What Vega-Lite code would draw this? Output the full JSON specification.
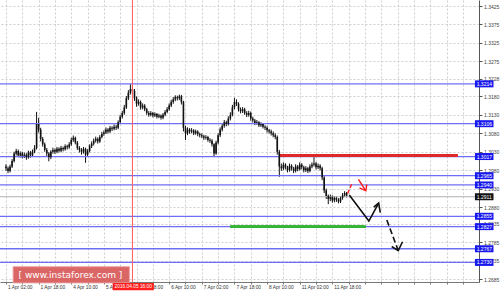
{
"$schema": "https://vega.github.io/schema/vega-lite/v6.json",
"width": 479, "height": 282,
"autosize": "none",
"padding": {"left": 0, "top": 0, "right": 21, "bottom": 11},
"background": "white",
"config": {"view": {"stroke": null}, "font": "Liberation Sans"},
"resolve": {"axis": {"x": "independent", "y": "independent"}},
"datasets": {
"candles": [
{"i":0,"o":1.2990,"h":1.2996,"l":1.2978,"c":1.2985},
{"i":1,"o":1.2985,"h":1.2990,"l":1.2972,"c":1.2978},
{"i":2,"o":1.2978,"h":1.2995,"l":1.2974,"c":1.2990},
{"i":3,"o":1.2990,"h":1.3010,"l":1.2986,"c":1.3005},
{"i":4,"o":1.3005,"h":1.3030,"l":1.3001,"c":1.3025},
{"i":5,"o":1.3025,"h":1.3038,"l":1.3020,"c":1.3032},
{"i":6,"o":1.3032,"h":1.3036,"l":1.3015,"c":1.3020},
{"i":7,"o":1.3020,"h":1.3031,"l":1.3014,"c":1.3026},
{"i":8,"o":1.3026,"h":1.3030,"l":1.3012,"c":1.3018},
{"i":9,"o":1.3018,"h":1.3028,"l":1.3013,"c":1.3022},
{"i":10,"o":1.3022,"h":1.3026,"l":1.3008,"c":1.3015},
{"i":11,"o":1.3015,"h":1.3033,"l":1.3011,"c":1.3028},
{"i":12,"o":1.3028,"h":1.3032,"l":1.3014,"c":1.3020},
{"i":13,"o":1.3020,"h":1.3036,"l":1.3016,"c":1.3030},
{"i":14,"o":1.3030,"h":1.3048,"l":1.3026,"c":1.3040},
{"i":15,"o":1.3040,"h":1.3138,"l":1.3036,"c":1.3105},
{"i":16,"o":1.3105,"h":1.3122,"l":1.3082,"c":1.3090},
{"i":17,"o":1.3090,"h":1.3095,"l":1.3058,"c":1.3065},
{"i":18,"o":1.3065,"h":1.3070,"l":1.3044,"c":1.3050},
{"i":19,"o":1.3050,"h":1.3055,"l":1.3030,"c":1.3035},
{"i":20,"o":1.3035,"h":1.3040,"l":1.3018,"c":1.3025},
{"i":21,"o":1.3025,"h":1.3029,"l":1.3004,"c":1.3015},
{"i":22,"o":1.3015,"h":1.3034,"l":1.3010,"c":1.3030},
{"i":23,"o":1.3030,"h":1.3041,"l":1.3025,"c":1.3035},
{"i":24,"o":1.3035,"h":1.3039,"l":1.3024,"c":1.3030},
{"i":25,"o":1.3030,"h":1.3043,"l":1.3026,"c":1.3038},
{"i":26,"o":1.3038,"h":1.3042,"l":1.3028,"c":1.3033},
{"i":27,"o":1.3033,"h":1.3046,"l":1.3029,"c":1.3040},
{"i":28,"o":1.3040,"h":1.3044,"l":1.3031,"c":1.3037},
{"i":29,"o":1.3037,"h":1.3050,"l":1.3033,"c":1.3045},
{"i":30,"o":1.3045,"h":1.3049,"l":1.3036,"c":1.3042},
{"i":31,"o":1.3042,"h":1.3056,"l":1.3038,"c":1.3050},
{"i":32,"o":1.3050,"h":1.3068,"l":1.3046,"c":1.3062},
{"i":33,"o":1.3062,"h":1.3074,"l":1.3057,"c":1.3068},
{"i":34,"o":1.3068,"h":1.3071,"l":1.3050,"c":1.3055},
{"i":35,"o":1.3055,"h":1.3059,"l":1.3035,"c":1.3040},
{"i":36,"o":1.3040,"h":1.3045,"l":1.3028,"c":1.3035},
{"i":37,"o":1.3035,"h":1.3040,"l":1.3022,"c":1.3030},
{"i":38,"o":1.3030,"h":1.3043,"l":1.3025,"c":1.3038},
{"i":39,"o":1.3038,"h":1.3041,"l":1.3000,"c":1.3022},
{"i":40,"o":1.3022,"h":1.3037,"l":1.3017,"c":1.3032},
{"i":41,"o":1.3032,"h":1.3050,"l":1.3028,"c":1.3045},
{"i":42,"o":1.3045,"h":1.3058,"l":1.3040,"c":1.3052},
{"i":43,"o":1.3052,"h":1.3066,"l":1.3047,"c":1.3060},
{"i":44,"o":1.3060,"h":1.3071,"l":1.3055,"c":1.3065},
{"i":45,"o":1.3065,"h":1.3069,"l":1.3052,"c":1.3058},
{"i":46,"o":1.3058,"h":1.3075,"l":1.3054,"c":1.3070},
{"i":47,"o":1.3070,"h":1.3084,"l":1.3066,"c":1.3078},
{"i":48,"o":1.3078,"h":1.3088,"l":1.3073,"c":1.3082},
{"i":49,"o":1.3082,"h":1.3096,"l":1.3078,"c":1.3090},
{"i":50,"o":1.3090,"h":1.3094,"l":1.3079,"c":1.3085},
{"i":51,"o":1.3085,"h":1.3100,"l":1.3081,"c":1.3095},
{"i":52,"o":1.3095,"h":1.3099,"l":1.3086,"c":1.3092},
{"i":53,"o":1.3092,"h":1.3104,"l":1.3088,"c":1.3098},
{"i":54,"o":1.3098,"h":1.3103,"l":1.3089,"c":1.3095},
{"i":55,"o":1.3095,"h":1.3115,"l":1.3091,"c":1.3110},
{"i":56,"o":1.3110,"h":1.3130,"l":1.3105,"c":1.3125},
{"i":57,"o":1.3125,"h":1.3141,"l":1.3120,"c":1.3135},
{"i":58,"o":1.3135,"h":1.3157,"l":1.3130,"c":1.3150},
{"i":59,"o":1.3150,"h":1.3181,"l":1.3146,"c":1.3175},
{"i":60,"o":1.3175,"h":1.3197,"l":1.3170,"c":1.3190},
{"i":61,"o":1.3190,"h":1.3213,"l":1.3185,"c":1.3200},
{"i":62,"o":1.3200,"h":1.3210,"l":1.3185,"c":1.3195},
{"i":63,"o":1.3195,"h":1.3200,"l":1.3168,"c":1.3175},
{"i":64,"o":1.3175,"h":1.3180,"l":1.3152,"c":1.3160},
{"i":65,"o":1.3160,"h":1.3172,"l":1.3155,"c":1.3165},
{"i":66,"o":1.3165,"h":1.3169,"l":1.3144,"c":1.3150},
{"i":67,"o":1.3150,"h":1.3161,"l":1.3145,"c":1.3155},
{"i":68,"o":1.3155,"h":1.3159,"l":1.3140,"c":1.3145},
{"i":69,"o":1.3145,"h":1.3149,"l":1.3130,"c":1.3135},
{"i":70,"o":1.3135,"h":1.3140,"l":1.3125,"c":1.3130},
{"i":71,"o":1.3130,"h":1.3140,"l":1.3126,"c":1.3135},
{"i":72,"o":1.3135,"h":1.3138,"l":1.3123,"c":1.3128},
{"i":73,"o":1.3128,"h":1.3137,"l":1.3124,"c":1.3132},
{"i":74,"o":1.3132,"h":1.3135,"l":1.3120,"c":1.3125},
{"i":75,"o":1.3125,"h":1.3133,"l":1.3121,"c":1.3128},
{"i":76,"o":1.3128,"h":1.3131,"l":1.3117,"c":1.3122},
{"i":77,"o":1.3122,"h":1.3135,"l":1.3118,"c":1.3130},
{"i":78,"o":1.3130,"h":1.3143,"l":1.3126,"c":1.3138},
{"i":79,"o":1.3138,"h":1.3151,"l":1.3134,"c":1.3145},
{"i":80,"o":1.3145,"h":1.3161,"l":1.3141,"c":1.3155},
{"i":81,"o":1.3155,"h":1.3171,"l":1.3151,"c":1.3165},
{"i":82,"o":1.3165,"h":1.3178,"l":1.3160,"c":1.3172},
{"i":83,"o":1.3172,"h":1.3183,"l":1.3167,"c":1.3178},
{"i":84,"o":1.3178,"h":1.3182,"l":1.3169,"c":1.3175},
{"i":85,"o":1.3175,"h":1.3185,"l":1.3170,"c":1.3180},
{"i":86,"o":1.3180,"h":1.3184,"l":1.3158,"c":1.3165},
{"i":87,"o":1.3165,"h":1.3168,"l":1.3085,"c":1.3095},
{"i":88,"o":1.3095,"h":1.3100,"l":1.3062,"c":1.3080},
{"i":89,"o":1.3080,"h":1.3096,"l":1.3075,"c":1.3090},
{"i":90,"o":1.3090,"h":1.3094,"l":1.3079,"c":1.3085},
{"i":91,"o":1.3085,"h":1.3094,"l":1.3080,"c":1.3088},
{"i":92,"o":1.3088,"h":1.3091,"l":1.3075,"c":1.3080},
{"i":93,"o":1.3080,"h":1.3090,"l":1.3076,"c":1.3085},
{"i":94,"o":1.3085,"h":1.3088,"l":1.3072,"c":1.3078},
{"i":95,"o":1.3078,"h":1.3082,"l":1.3069,"c":1.3075},
{"i":96,"o":1.3075,"h":1.3080,"l":1.3067,"c":1.3072},
{"i":97,"o":1.3072,"h":1.3076,"l":1.3062,"c":1.3068},
{"i":98,"o":1.3068,"h":1.3075,"l":1.3063,"c":1.3070},
{"i":99,"o":1.3070,"h":1.3073,"l":1.3057,"c":1.3062},
{"i":100,"o":1.3062,"h":1.3067,"l":1.3054,"c":1.3060},
{"i":101,"o":1.3060,"h":1.3064,"l":1.3044,"c":1.3050},
{"i":102,"o":1.3050,"h":1.3053,"l":1.3018,"c":1.3025},
{"i":103,"o":1.3025,"h":1.3060,"l":1.3022,"c":1.3055},
{"i":104,"o":1.3055,"h":1.3080,"l":1.3050,"c":1.3075},
{"i":105,"o":1.3075,"h":1.3096,"l":1.3070,"c":1.3090},
{"i":106,"o":1.3090,"h":1.3106,"l":1.3085,"c":1.3100},
{"i":107,"o":1.3100,"h":1.3116,"l":1.3095,"c":1.3110},
{"i":108,"o":1.3110,"h":1.3114,"l":1.3099,"c":1.3105},
{"i":109,"o":1.3105,"h":1.3126,"l":1.3101,"c":1.3120},
{"i":110,"o":1.3120,"h":1.3137,"l":1.3115,"c":1.3130},
{"i":111,"o":1.3130,"h":1.3157,"l":1.3126,"c":1.3150},
{"i":112,"o":1.3150,"h":1.3176,"l":1.3145,"c":1.3165},
{"i":113,"o":1.3165,"h":1.3172,"l":1.3154,"c":1.3160},
{"i":114,"o":1.3160,"h":1.3164,"l":1.3139,"c":1.3145},
{"i":115,"o":1.3145,"h":1.3150,"l":1.3134,"c":1.3140},
{"i":116,"o":1.3140,"h":1.3151,"l":1.3135,"c":1.3145},
{"i":117,"o":1.3145,"h":1.3149,"l":1.3130,"c":1.3135},
{"i":118,"o":1.3135,"h":1.3140,"l":1.3124,"c":1.3130},
{"i":119,"o":1.3130,"h":1.3141,"l":1.3125,"c":1.3135},
{"i":120,"o":1.3135,"h":1.3139,"l":1.3114,"c":1.3120},
{"i":121,"o":1.3120,"h":1.3125,"l":1.3109,"c":1.3115},
{"i":122,"o":1.3115,"h":1.3119,"l":1.3102,"c":1.3108},
{"i":123,"o":1.3108,"h":1.3116,"l":1.3103,"c":1.3110},
{"i":124,"o":1.3110,"h":1.3113,"l":1.3097,"c":1.3102},
{"i":125,"o":1.3102,"h":1.3110,"l":1.3097,"c":1.3105},
{"i":126,"o":1.3105,"h":1.3108,"l":1.3093,"c":1.3098},
{"i":127,"o":1.3098,"h":1.3102,"l":1.3089,"c":1.3095},
{"i":128,"o":1.3095,"h":1.3099,"l":1.3082,"c":1.3088},
{"i":129,"o":1.3088,"h":1.3092,"l":1.3079,"c":1.3085},
{"i":130,"o":1.3085,"h":1.3090,"l":1.3074,"c":1.3080},
{"i":131,"o":1.3080,"h":1.3085,"l":1.3069,"c":1.3075},
{"i":132,"o":1.3075,"h":1.3080,"l":1.3064,"c":1.3070},
{"i":133,"o":1.3070,"h":1.3074,"l":1.3022,"c":1.3030},
{"i":134,"o":1.3030,"h":1.3035,"l":1.2962,"c":1.2990},
{"i":135,"o":1.2990,"h":1.2998,"l":1.2978,"c":1.2985},
{"i":136,"o":1.2985,"h":1.3001,"l":1.2980,"c":1.2995},
{"i":137,"o":1.2995,"h":1.2999,"l":1.2982,"c":1.2988},
{"i":138,"o":1.2988,"h":1.2992,"l":1.2974,"c":1.2980},
{"i":139,"o":1.2980,"h":1.2998,"l":1.2976,"c":1.2992},
{"i":140,"o":1.2992,"h":1.2996,"l":1.2979,"c":1.2985},
{"i":141,"o":1.2985,"h":1.2989,"l":1.2972,"c":1.2978},
{"i":142,"o":1.2978,"h":1.2996,"l":1.2974,"c":1.2990},
{"i":143,"o":1.2990,"h":1.2994,"l":1.2977,"c":1.2983},
{"i":144,"o":1.2983,"h":1.3001,"l":1.2979,"c":1.2995},
{"i":145,"o":1.2995,"h":1.2999,"l":1.2982,"c":1.2988},
{"i":146,"o":1.2988,"h":1.2992,"l":1.2974,"c":1.2980},
{"i":147,"o":1.2980,"h":1.2991,"l":1.2975,"c":1.2985},
{"i":148,"o":1.2985,"h":1.2989,"l":1.2972,"c":1.2978},
{"i":149,"o":1.2978,"h":1.2996,"l":1.2974,"c":1.2990},
{"i":150,"o":1.2990,"h":1.3001,"l":1.2985,"c":1.2995},
{"i":151,"o":1.2995,"h":1.3016,"l":1.2990,"c":1.2998},
{"i":152,"o":1.2998,"h":1.3002,"l":1.2982,"c":1.2988},
{"i":153,"o":1.2988,"h":1.2998,"l":1.2983,"c":1.2992},
{"i":154,"o":1.2992,"h":1.2996,"l":1.2979,"c":1.2985},
{"i":155,"o":1.2985,"h":1.2989,"l":1.2953,"c":1.2960},
{"i":156,"o":1.2960,"h":1.2964,"l":1.2918,"c":1.2925},
{"i":157,"o":1.2925,"h":1.2930,"l":1.2902,"c":1.2910},
{"i":158,"o":1.2910,"h":1.2914,"l":1.2888,"c":1.2902},
{"i":159,"o":1.2902,"h":1.2914,"l":1.2896,"c":1.2908},
{"i":160,"o":1.2908,"h":1.2912,"l":1.2892,"c":1.2898},
{"i":161,"o":1.2898,"h":1.2910,"l":1.2893,"c":1.2905},
{"i":162,"o":1.2905,"h":1.2909,"l":1.2894,"c":1.2900},
{"i":163,"o":1.2900,"h":1.2904,"l":1.2890,"c":1.2895},
{"i":164,"o":1.2895,"h":1.2910,"l":1.2891,"c":1.2905},
{"i":165,"o":1.2905,"h":1.2918,"l":1.2900,"c":1.2912},
{"i":166,"o":1.2912,"h":1.2923,"l":1.2907,"c":1.2918},
{"i":167,"o":1.2918,"h":1.2921,"l":1.2906,"c":1.2911}
],
"levels": [
{"p":1.3214},{"p":1.3106},{"p":1.3017},{"p":1.2965},{"p":1.2940},{"p":1.2855},{"p":1.2827},{"p":1.2767},{"p":1.2730}
],
"arrows": [
{"g":"rd","k":0,"i":167.5,"p":1.2917},{"g":"rd","k":1,"i":169.6,"p":1.2944},
{"g":"ra","k":0,"i":172.8,"p":1.2955},{"g":"ra","k":1,"i":176.4,"p":1.2924},
{"g":"rh","k":0,"i":173.3,"p":1.2932},{"g":"rh","k":1,"i":176.4,"p":1.2924},{"g":"rh","k":2,"i":176.9,"p":1.2941},
{"g":"bs","k":0,"i":168.3,"p":1.2913},{"g":"bs","k":1,"i":177.9,"p":1.2842},{"g":"bs","k":2,"i":182.7,"p":1.2891},
{"g":"bh","k":0,"i":180.3,"p":1.2880},{"g":"bh","k":1,"i":182.7,"p":1.2891},{"g":"bh","k":2,"i":183.5,"p":1.2865},
{"g":"bd","k":0,"i":186.7,"p":1.2845},{"g":"bd","k":1,"i":192.3,"p":1.2762},
{"g":"bdh","k":0,"i":189.1,"p":1.2773},{"g":"bdh","k":1,"i":192.3,"p":1.2762},{"g":"bdh","k":2,"i":194.4,"p":1.2786}
],
"price": [{"p":1.2908,"t":"1.2911"}]
},
"layer": [
{
"data": {"name": "candles"},
"mark": {"type": "rule", "color": "#111", "strokeWidth": 1},
"encoding": {
"x": {"field": "i", "type": "quantitative", "scale": {"domain": [-0.48, 229.44], "nice": false, "zero": false},
"axis": {"values": [0,8,16,24,32,40,48,56,64,72,80,88,96,104,112,120,128,136,144,152,160,168,176,184,192,200,208,216,224],
"grid": true, "gridDash": [2,2], "gridColor": "#cfcfcf", "gridWidth": 1,
"domainColor": "#777", "tickColor": "#777", "tickSize": 2, "labelAlign": "left", "labelOffset": 1.5, "labelPadding": 0.5,
"labelFontSize": 4.8, "labelColor": "#333", "labelOverlap": false, "labelBound": false, "labelFlush": false, "title": null,
"labelExpr": "datum.value % 16 == 0 && datum.value <= 160 ? ['1 Apr 02:00','1 Apr 18:00','4 Apr 10:00','5 Apr 02:00','5 Apr 18:00','6 Apr 10:00','7 Apr 02:00','7 Apr 18:00','8 Apr 10:00','11 Apr 02:00','11 Apr 18:00'][datum.value/16] : ''"}},
"y": {"field": "l", "type": "quantitative", "scale": {"domain": [1.26769, 1.34413], "nice": false, "zero": false},
"axis": {"orient": "right", "values": [1.3425,1.3375,1.3325,1.3275,1.3228,1.3180,1.3130,1.3080,1.3030,1.2980,1.2930,1.2880,1.2835,1.2785,1.2735,1.2685],
"format": ".4f", "grid": true, "gridDash": [2,2], "gridColor": "#cfcfcf", "gridWidth": 1,
"domainColor": "#555", "tickColor": "#555", "tickSize": 3, "labelFontSize": 5, "labelColor": "#444", "labelPadding": 1.5,
"labelOverlap": false, "labelBound": false, "labelFlush": false, "title": null}},
"y2": {"field": "h"}
}
},
{
"data": {"name": "levels"},
"mark": {"type": "rule", "color": "#6e6ef4", "strokeWidth": 1.3},
"encoding": {
"y": {"field": "p", "type": "quantitative", "scale": {"domain": [1.26769, 1.34413], "nice": false, "zero": false}, "axis": null}
}
},
{
"data": {"name": "price"},
"mark": {"type": "rule", "color": "#b0b0b0", "strokeWidth": 1},
"encoding": {
"y": {"field": "p", "type": "quantitative", "scale": {"domain": [1.26769, 1.34413], "nice": false, "zero": false}, "axis": null}
}
},
{
"data": {"name": "levels"},
"mark": {"type": "rule", "color": "#e02828", "strokeWidth": 2},
"encoding": {
"x": {"datum": 133.9, "type": "quantitative", "scale": {"domain": [-0.48, 229.44], "nice": false, "zero": false}, "axis": null},
"x2": {"datum": 221.3},
"y": {"datum": 1.3020, "type": "quantitative", "scale": {"domain": [1.26769, 1.34413], "nice": false, "zero": false}, "axis": null}
}
},
{
"data": {"name": "levels"},
"mark": {"type": "rule", "color": "#33b533", "strokeWidth": 2},
"encoding": {
"x": {"datum": 110, "type": "quantitative", "scale": {"domain": [-0.48, 229.44], "nice": false, "zero": false}, "axis": null},
"x2": {"datum": 176.2},
"y": {"datum": 1.2827, "type": "quantitative", "scale": {"domain": [1.26769, 1.34413], "nice": false, "zero": false}, "axis": null}
}
},
{
"data": {"name": "candles"},
"mark": {"type": "bar", "color": "#111", "size": 1.6},
"encoding": {
"x": {"field": "i", "type": "quantitative", "scale": {"domain": [-0.48, 229.44], "nice": false, "zero": false}, "axis": null},
"y": {"field": "o", "type": "quantitative", "scale": {"domain": [1.26769, 1.34413], "nice": false, "zero": false}, "axis": null},
"y2": {"field": "c"}
}
},
{
"data": {"name": "price"},
"mark": {"type": "rule", "color": "#ff5a5a", "strokeWidth": 1},
"encoding": {
"x": {"datum": 62, "type": "quantitative", "scale": {"domain": [-0.48, 229.44], "nice": false, "zero": false}, "axis": null}
}
},
{
"data": {"name": "arrows"},
"transform": [{"filter": "datum.g == 'rd'"}],
"mark": {"type": "line", "color": "#ff1a1a", "strokeWidth": 1.4, "strokeDash": [4, 2]},
"encoding": {
"x": {"field": "i", "type": "quantitative", "scale": {"domain": [-0.48, 229.44], "nice": false, "zero": false}, "axis": null},
"y": {"field": "p", "type": "quantitative", "scale": {"domain": [1.26769, 1.34413], "nice": false, "zero": false}, "axis": null},
"detail": {"field": "g"},
"order": {"field": "k"}
}
},
{
"data": {"name": "arrows"},
"transform": [{"filter": "datum.g == 'ra' || datum.g == 'rh'"}],
"mark": {"type": "line", "color": "#ff1a1a", "strokeWidth": 1.4},
"encoding": {
"x": {"field": "i", "type": "quantitative", "scale": {"domain": [-0.48, 229.44], "nice": false, "zero": false}, "axis": null},
"y": {"field": "p", "type": "quantitative", "scale": {"domain": [1.26769, 1.34413], "nice": false, "zero": false}, "axis": null},
"detail": {"field": "g"},
"order": {"field": "k"}
}
},
{
"data": {"name": "arrows"},
"transform": [{"filter": "datum.g == 'bs' || datum.g == 'bh' || datum.g == 'bdh'"}],
"mark": {"type": "line", "color": "#111", "strokeWidth": 1.6},
"encoding": {
"x": {"field": "i", "type": "quantitative", "scale": {"domain": [-0.48, 229.44], "nice": false, "zero": false}, "axis": null},
"y": {"field": "p", "type": "quantitative", "scale": {"domain": [1.26769, 1.34413], "nice": false, "zero": false}, "axis": null},
"detail": {"field": "g"},
"order": {"field": "k"}
}
},
{
"data": {"name": "arrows"},
"transform": [{"filter": "datum.g == 'bd'"}],
"mark": {"type": "line", "color": "#111", "strokeWidth": 1.6, "strokeDash": [6, 3]},
"encoding": {
"x": {"field": "i", "type": "quantitative", "scale": {"domain": [-0.48, 229.44], "nice": false, "zero": false}, "axis": null},
"y": {"field": "p", "type": "quantitative", "scale": {"domain": [1.26769, 1.34413], "nice": false, "zero": false}, "axis": null},
"detail": {"field": "g"},
"order": {"field": "k"}
}
},
{
"data": {"name": "price"},
"mark": {"type": "rect", "fill": "#da5e5e", "stroke": "#eba0a0", "strokeWidth": 1, "opacity": 0.95},
"encoding": {
"x": {"datum": 3.5, "type": "quantitative", "scale": {"domain": [-0.48, 229.44], "nice": false, "zero": false}, "axis": null},
"x2": {"datum": 60.5},
"y": {"datum": 1.27184, "type": "quantitative", "scale": {"domain": [1.26769, 1.34413], "nice": false, "zero": false}, "axis": null},
"y2": {"datum": 1.26745}
}
},
{
"data": {"name": "price"},
"mark": {"type": "text", "color": "white", "font": "DejaVu Sans", "fontSize": 9, "align": "center", "baseline": "middle"},
"encoding": {
"x": {"datum": 31.6, "type": "quantitative", "scale": {"domain": [-0.48, 229.44], "nice": false, "zero": false}, "axis": null},
"y": {"datum": 1.26955, "type": "quantitative", "scale": {"domain": [1.26769, 1.34413], "nice": false, "zero": false}, "axis": null},
"text": {"value": "[ www.instaforex.com ]"}
}
},
{
"data": {"name": "price"},
"mark": {"type": "rect", "fill": "#ff1e1e"},
"encoding": {
"x": {"datum": 52.3, "type": "quantitative", "scale": {"domain": [-0.48, 229.44], "nice": false, "zero": false}, "axis": null},
"x2": {"datum": 72.5},
"y": {"datum": 1.26742, "type": "quantitative", "scale": {"domain": [1.26769, 1.34413], "nice": false, "zero": false}, "axis": null},
"y2": {"datum": 1.26545}
}
},
{
"data": {"name": "price"},
"mark": {"type": "text", "color": "white", "fontSize": 4.8, "align": "center", "baseline": "middle"},
"encoding": {
"x": {"datum": 62.4, "type": "quantitative", "scale": {"domain": [-0.48, 229.44], "nice": false, "zero": false}, "axis": null},
"y": {"datum": 1.26637, "type": "quantitative", "scale": {"domain": [1.26769, 1.34413], "nice": false, "zero": false}, "axis": null},
"text": {"value": "2016.04.05 16:00"}
}
},
{
"data": {"name": "levels"},
"mark": {"type": "rect", "fill": "#1818ee", "yOffset": -3.5, "y2Offset": 3.5},
"encoding": {
"x": {"datum": 229.9, "type": "quantitative", "scale": {"domain": [-0.48, 229.44], "nice": false, "zero": false}, "axis": null},
"x2": {"datum": 239.0},
"y": {"field": "p", "type": "quantitative", "scale": {"domain": [1.26769, 1.34413], "nice": false, "zero": false}, "axis": null},
"y2": {"field": "p"}
}
},
{
"data": {"name": "levels"},
"mark": {"type": "text", "color": "white", "fontSize": 5, "align": "center", "baseline": "middle"},
"encoding": {
"x": {"datum": 234.5, "type": "quantitative", "scale": {"domain": [-0.48, 229.44], "nice": false, "zero": false}, "axis": null},
"y": {"field": "p", "type": "quantitative", "scale": {"domain": [1.26769, 1.34413], "nice": false, "zero": false}, "axis": null},
"text": {"field": "p", "type": "quantitative", "format": ".4f"}
}
},
{
"data": {"name": "price"},
"mark": {"type": "rect", "fill": "#111", "yOffset": -3.5, "y2Offset": 3.5},
"encoding": {
"x": {"datum": 229.9, "type": "quantitative", "scale": {"domain": [-0.48, 229.44], "nice": false, "zero": false}, "axis": null},
"x2": {"datum": 239.0},
"y": {"field": "p", "type": "quantitative", "scale": {"domain": [1.26769, 1.34413], "nice": false, "zero": false}, "axis": null},
"y2": {"field": "p"}
}
},
{
"data": {"name": "price"},
"mark": {"type": "text", "color": "white", "fontSize": 5, "align": "center", "baseline": "middle"},
"encoding": {
"x": {"datum": 234.5, "type": "quantitative", "scale": {"domain": [-0.48, 229.44], "nice": false, "zero": false}, "axis": null},
"y": {"field": "p", "type": "quantitative", "scale": {"domain": [1.26769, 1.34413], "nice": false, "zero": false}, "axis": null},
"text": {"field": "t"}
}
}
]
}
